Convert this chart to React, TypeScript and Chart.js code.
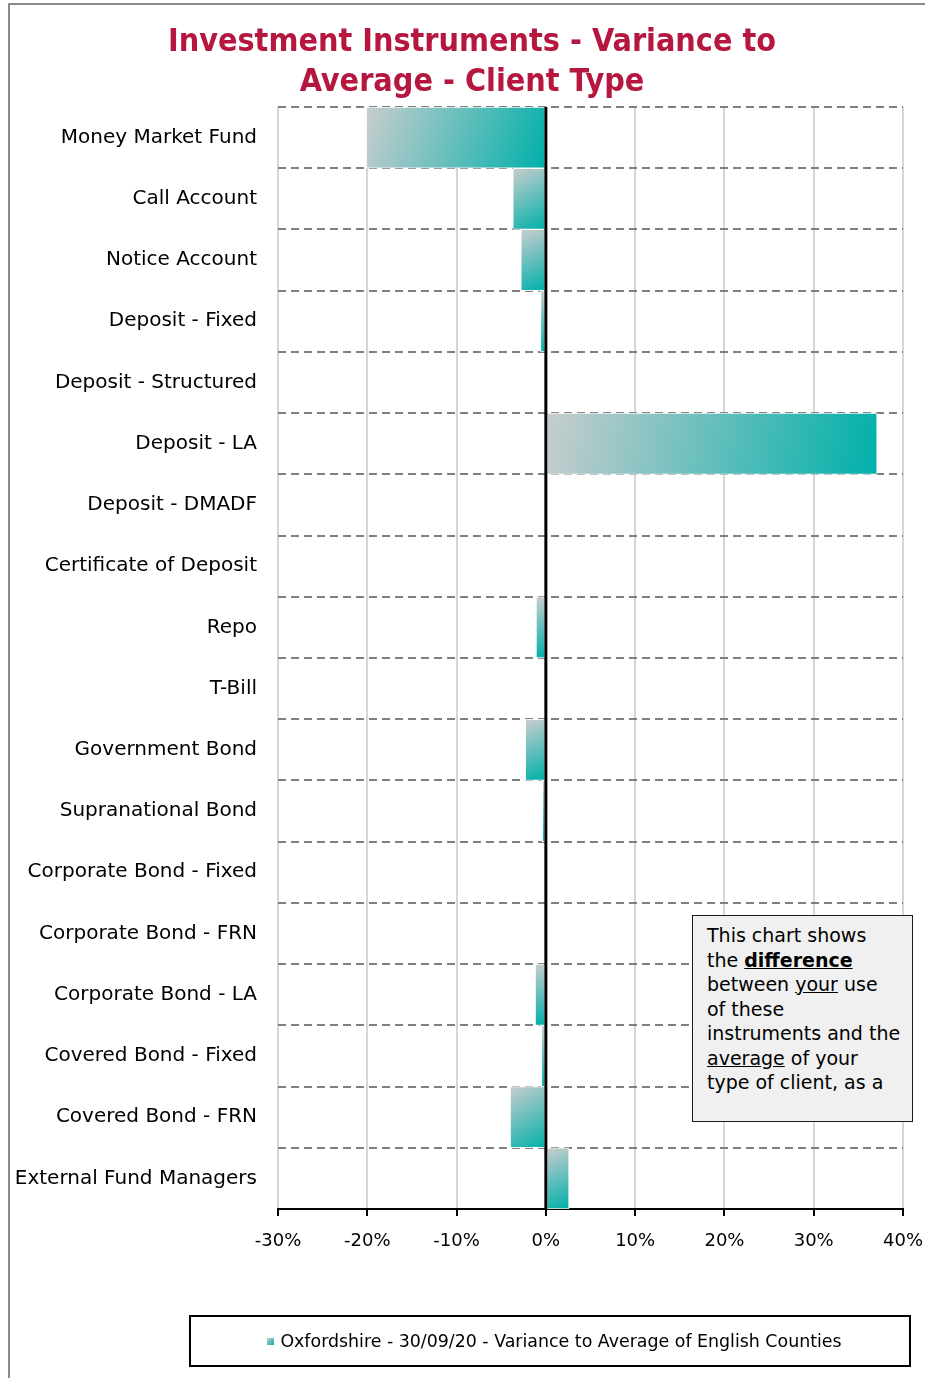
import React, { useEffect, useRef } from "react";
import { Chart, registerables } from "chart.js";

Chart.register(...registerables);

const categories = [
  "Money Market Fund",
  "Call Account",
  "Notice Account",
  "Deposit - Fixed",
  "Deposit - Structured",
  "Deposit - LA",
  "Deposit - DMADF",
  "Certificate of Deposit",
  "Repo",
  "T-Bill",
  "Government Bond",
  "Supranational Bond",
  "Corporate Bond - Fixed",
  "Corporate Bond - FRN",
  "Corporate Bond - LA",
  "Covered Bond - Fixed",
  "Covered Bond - FRN",
  "External Fund Managers",
];

const variance = [-20.1, -3.7, -2.8, -0.6, 0, 37.1, 0, 0, -1.1, 0, -2.3, -0.4, 0, 0, -1.2, -0.5, -4.0, 2.6];

const xMin = -30;
const xMax = 40;
const xStep = 10;

const seriesLabel = "Oxfordshire - 30/09/20 - Variance to Average of English Counties";
const titleLines = ["Investment Instruments - Variance to", "Average - Client Type"];

const GRAY = "#c9cdce";
const TEAL = "#00b0aa";

export default function App() {
  const canvasRef = useRef<HTMLCanvasElement | null>(null);

  useEffect(() => {
    const canvas = canvasRef.current;
    if (!canvas) return;

    const zeroLine = {
      id: "zeroLine",
      afterDatasetsDraw(chart: any) {
        const { ctx, chartArea, scales } = chart;
        const x = scales.x.getPixelForValue(0);
        ctx.save();
        ctx.strokeStyle = "#000";
        ctx.lineWidth = 3;
        ctx.beginPath();
        ctx.moveTo(x, chartArea.top);
        ctx.lineTo(x, chartArea.bottom);
        ctx.stroke();
        ctx.restore();
      },
    };

    const chart = new Chart(canvas, {
      type: "bar",
      data: {
        labels: categories,
        datasets: [
          {
            label: seriesLabel,
            data: variance,
            barPercentage: 1,
            categoryPercentage: 1,
            borderWidth: 1,
            borderColor: "rgba(255,255,255,0.9)",
            borderSkipped: false,
            backgroundColor: (c: any) => {
              const ch = c.chart;
              const scales = ch.scales;
              if (c.type !== "data" || !scales || !scales.x || !scales.y || !ch.chartArea) return TEAL;
              const v = c.raw as number;
              const x0 = scales.x.getPixelForValue(Math.min(0, v));
              const x1 = scales.x.getPixelForValue(Math.max(0, v));
              const yc = scales.y.getPixelForValue(c.dataIndex);
              const h = (ch.chartArea.bottom - ch.chartArea.top) / categories.length;
              if (x1 - x0 < 0.5) return TEAL;
              const g = ch.ctx.createLinearGradient(x0, yc - h / 2, x1, yc + h / 2);
              g.addColorStop(0, GRAY);
              g.addColorStop(1, TEAL);
              return g;
            },
          },
        ],
      },
      options: {
        indexAxis: "y",
        animation: false,
        responsive: false,
        maintainAspectRatio: false,
        layout: { padding: { top: 107, right: 22, left: 0, bottom: 0 } },
        plugins: {
          legend: { display: false },
          title: { display: false },
          tooltip: { enabled: false },
        },
        scales: {
          x: {
            type: "linear",
            min: xMin,
            max: xMax,
            afterFit: (s: any) => {
              s.height = 169;
              s.paddingLeft = 0;
              s.paddingRight = 0;
            },
            ticks: {
              stepSize: xStep,
              callback: (v: any) => `${v}%`,
              color: "#000",
              font: { family: "'DejaVu Sans', sans-serif", size: 18 },
              padding: 15,
              maxRotation: 0,
            },
            grid: {
              color: "#d6d6d6",
              lineWidth: 2,
              tickColor: "#000",
              tickLength: 7,
              drawTicks: true,
            },
            border: { display: true, color: "#000", width: 2 },
          },
          y: {
            type: "category",
            afterFit: (s: any) => {
              s.width = 278;
              s.paddingTop = 0;
              s.paddingBottom = 0;
            },
            ticks: {
              color: "#000",
              font: { family: "'DejaVu Sans', sans-serif", size: 20 },
              padding: 21,
              autoSkip: false,
            },
            grid: {
              offset: true,
              drawTicks: false,
              lineWidth: 2,
              color: (c: any) => (c.index >= categories.length ? "rgba(0,0,0,0)" : "#808080"),
            },
            border: { display: false, dash: [8, 5] },
          },
        },
      },
      plugins: [zeroLine],
    } as any);

    return () => chart.destroy();
  }, []);

  return (
    <div
      style={{
        position: "absolute",
        left: 0,
        top: 0,
        width: 925,
        height: 1378,
        overflow: "hidden",
        background: "#fff",
        fontFamily: "'DejaVu Sans', sans-serif",
      }}
    >
      <div
        style={{
          position: "absolute",
          left: 8,
          top: 3,
          width: 917,
          height: 1375,
          borderLeft: "2px solid #8a8a8a",
          borderTop: "2px solid #8a8a8a",
          boxSizing: "border-box",
        }}
      />
      <canvas ref={canvasRef} width={925} height={1378} style={{ position: "absolute", left: 0, top: 0 }} />
      <div
        style={{
          position: "absolute",
          left: 0,
          top: 20,
          width: 944,
          textAlign: "center",
          color: "#b5173f",
          fontFamily: "'DejaVu Sans Condensed', 'DejaVu Sans', sans-serif",
          fontWeight: "bold",
          fontSize: 32,
          lineHeight: "40px",
        }}
      >
        {titleLines.map((t) => (
          <div key={t}>{t}</div>
        ))}
      </div>
      <div
        style={{
          position: "absolute",
          left: 692,
          top: 915,
          width: 221,
          height: 207,
          boxSizing: "border-box",
          border: "1.5px solid #1a1a1a",
          background: "#f0f0f0",
          padding: "7px 0 0 14px",
          fontSize: 19,
          lineHeight: "24.5px",
          color: "#000",
          overflow: "hidden",
          whiteSpace: "nowrap",
        }}
      >
        This chart shows
        <br />
        the <b style={{ textDecoration: "underline" }}>difference</b>
        <br />
        between <u>your</u> use
        <br />
        of these
        <br />
        instruments and the
        <br />
        <u>average</u> of your
        <br />
        type of client, as a
      </div>
      <div
        style={{
          position: "absolute",
          left: 189,
          top: 1315,
          width: 722,
          height: 52,
          boxSizing: "border-box",
          border: "2px solid #000",
          display: "flex",
          alignItems: "center",
          justifyContent: "center",
          paddingLeft: 9,
          fontSize: 17.4,
          color: "#000",
          whiteSpace: "nowrap",
        }}
      >
        <span
          style={{
            display: "inline-block",
            width: 7,
            height: 7,
            marginRight: 6,
            background: `linear-gradient(135deg, ${GRAY}, ${TEAL})`,
          }}
        />
        {seriesLabel}
      </div>
    </div>
  );
}
